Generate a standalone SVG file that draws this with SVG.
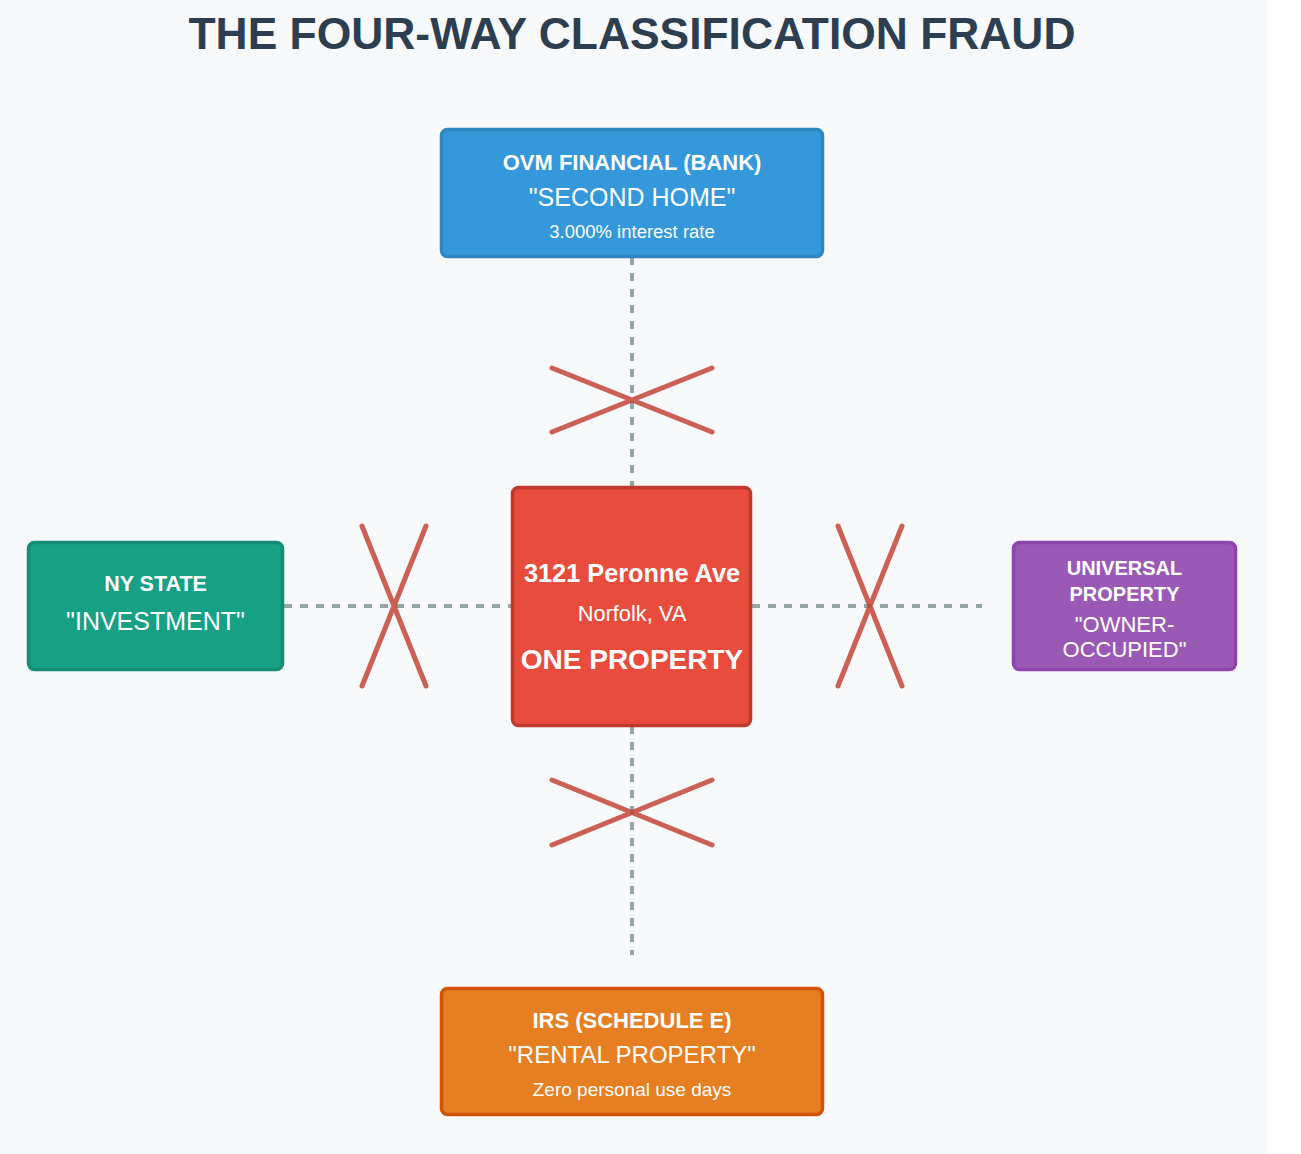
<svg xmlns="http://www.w3.org/2000/svg" width="1301" height="1154" viewBox="0 0 1301 1154">
<style>
text{font-family:"Liberation Sans",Arial,sans-serif;fill:#ffffff;text-anchor:middle}
.title{font-size:44.4px;font-weight:bold;fill:#2c3e50}
.hd{font-size:22px;font-weight:bold}
.big{font-size:25px}
.sm{font-size:18.5px}
.box{stroke-width:3.5}
.conn{stroke:#95a5a6;stroke-width:4;stroke-dasharray:8 8;fill:none}
.x{stroke:#c0392b;stroke-opacity:0.8;stroke-width:5;stroke-linecap:round;fill:none}
</style>
<rect x="0" y="0" width="1301" height="1154" fill="#ffffff"/>
<rect x="0" y="0" width="1267" height="1154" fill="#f8f9fa"/>
<text class="title" x="632" y="49">THE FOUR-WAY CLASSIFICATION FRAUD</text>
<g id="connectors">
<path class="conn" d="M632,257 V487"/>
<path class="conn" d="M632,726 V955"/>
<path class="conn" d="M284,606 H512"/>
<path class="conn" d="M752,606 H982"/>
<path class="x" d="M552,368 L712,432 M552,432 L712,368"/>
<path class="x" d="M552,780 L712,845 M552,845 L712,780"/>
<path class="x" d="M362,526 L426,686 M426,526 L362,686"/>
<path class="x" d="M838,526 L902,686 M902,526 L838,686"/>
</g>
<g id="bank">
<rect class="box" x="441.5" y="129.5" width="381" height="127" rx="6" fill="#3498db" stroke="#2e86c1"/>
<text class="hd" x="632" y="170">OVM FINANCIAL (BANK)</text>
<text class="big" x="632" y="206">"SECOND HOME"</text>
<text class="sm" x="632" y="237.5">3.000% interest rate</text>
</g>
<g id="property">
<rect class="box" x="512.5" y="487.5" width="238" height="238" rx="6" fill="#e74c3c" stroke="#c0392b"/>
<text x="632" y="582" style="font-size:25.3px;font-weight:bold">3121 Peronne Ave</text>
<text x="632" y="621" style="font-size:21.8px">Norfolk, VA</text>
<text x="632" y="669" style="font-size:28px;font-weight:bold">ONE PROPERTY</text>
</g>
<g id="nystate">
<rect class="box" x="28.5" y="542.5" width="254" height="127" rx="6" fill="#16a085" stroke="#138d75"/>
<text x="155.5" y="591" style="font-size:21.5px;font-weight:bold">NY STATE</text>
<text class="big" x="155.5" y="630">"INVESTMENT"</text>
</g>
<g id="universal">
<rect class="box" x="1013.5" y="542.5" width="222" height="127" rx="6" fill="#9b59b6" stroke="#8e44ad"/>
<text x="1124.5" y="575" style="font-size:20px;font-weight:bold">UNIVERSAL</text>
<text x="1124.5" y="601" style="font-size:20px;font-weight:bold">PROPERTY</text>
<text x="1124.5" y="632" style="font-size:22px">"OWNER-</text>
<text x="1124.5" y="657" style="font-size:22px">OCCUPIED"</text>
</g>
<g id="irs">
<rect class="box" x="441.5" y="988.5" width="381" height="126" rx="6" fill="#e67e22" stroke="#d35400"/>
<text class="hd" x="632" y="1028">IRS (SCHEDULE E)</text>
<text x="632" y="1063" style="font-size:24px">"RENTAL PROPERTY"</text>
<text x="632" y="1095.5" style="font-size:19px">Zero personal use days</text>
</g>
</svg>
